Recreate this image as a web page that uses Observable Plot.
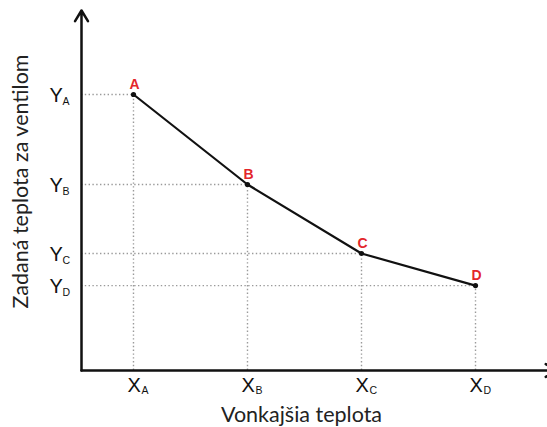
<!DOCTYPE html>
<html>
<head>
<meta charset="utf-8">
<script src="https://cdn.jsdelivr.net/npm/d3@7"></script>
<script src="https://cdn.jsdelivr.net/npm/@observablehq/plot@0.6"></script>
<style>
  html, body { margin: 0; padding: 0; background: #fff; overflow: hidden; }
</style>
</head>
<body>
<div id="chart"></div>
<script>
// Point names, outside temperature (x) and set temperature (y), arbitrary units
const names = ["A", "B", "C", "D"];
const xValues = [1, 3, 5, 7];
const yValues = [9.2, 6.2, 3.9, 2.83];
const xTickMain = "X";
const yTickMain = "Y";
const xTitle = "Vonkajšia teplota";
const yTitle = "Zadaná teplota za ventilom";

const xDomain = [0.088, 8.263];
const yDomain = [0, 12];

const data = names.map((n, i) => ({name: n, x: xValues[i], y: yValues[i]}));

const x0 = xDomain[0];
const labelFont = "Liberation Sans, Arial, sans-serif";
const titleFont = "Lato, 'Open Sans', sans-serif";

const chart = Plot.plot({
  width: 547,
  height: 427,
  marginLeft: 81,
  marginRight: 0,
  marginTop: 10,
  marginBottom: 57,
  style: {background: "#fff"},
  x: {domain: xDomain, axis: null},
  y: {domain: yDomain, axis: null},
  marks: [
    // dotted guide lines
    Plot.ruleY(data, {y: "y", x1: x0, x2: "x", stroke: "#9a9a9a", strokeWidth: 1.4, strokeDasharray: "1.4 2.4"}),
    Plot.ruleX(data, {x: "x", y1: 0, y2: "y", stroke: "#9a9a9a", strokeWidth: 1.4, strokeDasharray: "1.4 2.4"}),
    // axes with arrows
    Plot.arrow([0], {x1: x0, y1: 0, x2: x0, y2: yDomain[1], stroke: "#111", strokeWidth: 2.5, headLength: 7.5, headAngle: 62}),
    Plot.arrow([0], {x1: x0, y1: 0, x2: 8.42, y2: 0, stroke: "#111", strokeWidth: 2.5, headLength: 7.5, headAngle: 62}),
    // curve
    Plot.line(data, {x: "x", y: "y", stroke: "#111", strokeWidth: 2.2}),
    Plot.dot(data, {x: "x", y: "y", r: 2.6, fill: "#111", stroke: null}),
    Plot.text(data, {x: "x", y: "y", text: "name", dy: -10, dx: 1, fill: "#e3262b", fontWeight: "bold", fontSize: 14, fontFamily: labelFont}),
    // y tick labels (letter + subscript)
    Plot.text(data, {x: () => x0, y: "y", text: () => yTickMain, textAnchor: "start", dx: -32, dy: 1, fontSize: 20, fill: "#111", fontFamily: labelFont}),
    Plot.text(data, {x: () => x0, y: "y", text: "name", textAnchor: "start", dx: -19, dy: 7, fontSize: 10.5, fill: "#111", fontFamily: labelFont}),
    // x tick labels (letter + subscript)
    Plot.text(data, {x: "x", y: () => 0, text: () => xTickMain, textAnchor: "start", dx: -6, dy: 15, fontSize: 20, fill: "#111", fontFamily: labelFont}),
    Plot.text(data, {x: "x", y: () => 0, text: "name", textAnchor: "start", dx: 8, dy: 20, fontSize: 10.5, fill: "#111", fontFamily: labelFont}),
    // axis titles
    Plot.text([xTitle], {frameAnchor: "bottom", text: d => d, textAnchor: "middle", lineAnchor: "middle", dx: -13, dy: 45, fontSize: 21.5, fill: "#222", fontFamily: titleFont}),
    Plot.text([yTitle], {frameAnchor: "left", text: d => d, textAnchor: "middle", lineAnchor: "middle", rotate: -90, dx: -60, dy: -9, fontSize: 21.5, fill: "#222", fontFamily: titleFont})
  ]
});
document.getElementById("chart").appendChild(chart);
</script>
</body>
</html>
